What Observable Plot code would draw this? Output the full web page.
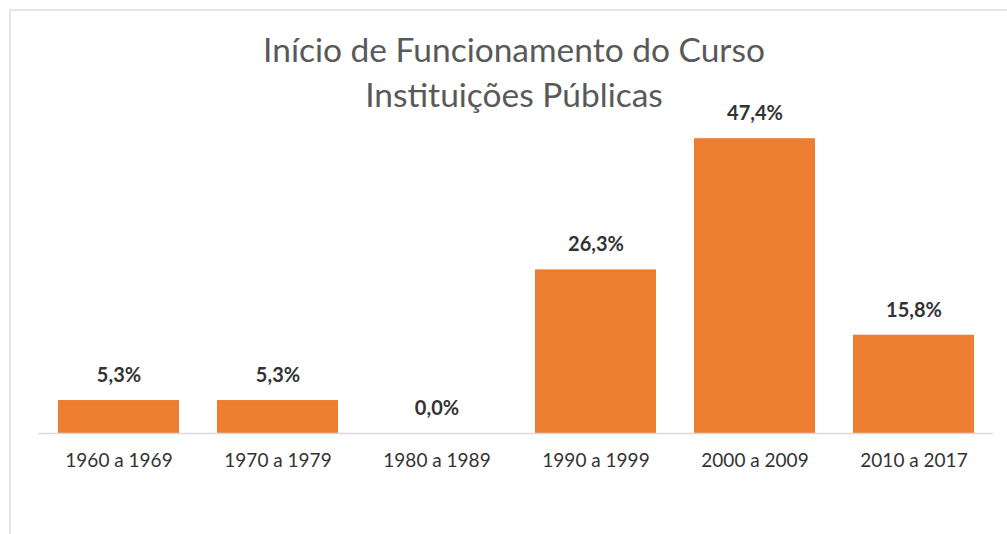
<!DOCTYPE html>
<html>
<head>
<meta charset="utf-8">
<script src="https://cdn.jsdelivr.net/npm/d3@7"></script>
<script src="https://cdn.jsdelivr.net/npm/@observablehq/plot@0.6"></script>
<style>
  html, body { margin: 0; padding: 0; background: #fff; }
  #wrap { position: relative; width: 1007px; height: 534px; overflow: hidden; background: #fff; }
  #frame { position: absolute; left: 9px; top: 9px; width: 1100px; height: 600px;
           border-left: 2px solid #e6e6e6; border-top: 2px solid #e6e6e6; }
  #title { position: absolute; left: 0; top: 27px; width: 1028px; text-align: center;
           font-family: Lato, "Open Sans", sans-serif; font-size: 33.5px; line-height: 45px; color: #595959; }
  #chart { position: absolute; left: 0; top: 0; }
</style>
</head>
<body>
<div id="wrap">
  <div id="frame"></div>
  <div id="chart"></div>
  <div id="title">Início de Funcionamento do Curso<br>Instituições Públicas</div>
</div>
<script>
const categories = ["1960 a 1969", "1970 a 1979", "1980 a 1989", "1990 a 1999", "2000 a 2009", "2010 a 2017"];
const values = [5.3, 5.3, 0.0, 26.3, 47.4, 15.8];
const labels = ["5,3%", "5,3%", "0,0%", "26,3%", "47,4%", "15,8%"];

const data = categories.map((c, i) => ({category: c, value: values[i], label: labels[i]}));

const chart = Plot.plot({
  width: 1007,
  height: 534,
  marginTop: 122,
  marginBottom: 101,
  marginLeft: 38,
  marginRight: 14,
  style: {background: "transparent", fontFamily: "Lato, 'Open Sans', sans-serif"},
  x: {domain: categories, paddingInner: 0.24, paddingOuter: 0.12, label: null},
  y: {domain: [0, 50], axis: null},
  marks: [
    Plot.barY(data, {x: "category", y: "value", fill: "#ED7D31"}),
    Plot.ruleY([0], {stroke: "#d9d9d9", strokeWidth: 1.5}),
    Plot.text(data, {x: "category", y: "value", text: "label", dy: -25, fontSize: 20, fontWeight: "bold", fill: "#333333"}),
    Plot.axisX({tickSize: 0, tickPadding: 20, fontSize: 19, color: "#333333", label: null})
  ]
});
document.getElementById("chart").appendChild(chart);
</script>
</body>
</html>
